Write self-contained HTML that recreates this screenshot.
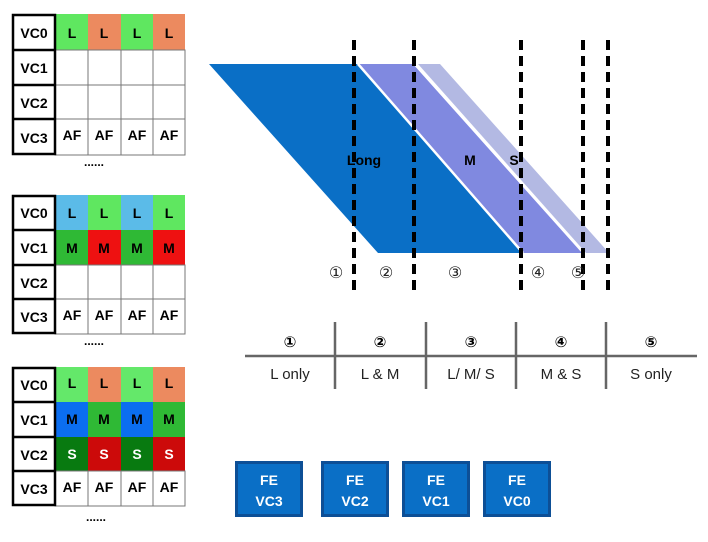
<!DOCTYPE html>
<html><head><meta charset="utf-8"><style>
html,body{margin:0;padding:0;background:#fff;}
svg{display:block;font-family:"Liberation Sans",Arial,sans-serif;}
.b{font-weight:bold;font-size:14px;text-anchor:middle;}
</style></head><body>
<svg width="708" height="542" viewBox="0 0 708 542">
<!-- Table 1 -->
<g>
<rect x="55" y="14" width="33" height="36" fill="#5fe760"/><rect x="88" y="14" width="33" height="36" fill="#ec8a5f"/>
<rect x="121" y="14" width="32" height="36" fill="#5fe760"/><rect x="153" y="14" width="32" height="36" fill="#ec8a5f"/>
<g stroke="#777" stroke-width="1" fill="none">
<rect x="55" y="50" width="130" height="105"/>
<line x1="88" y1="50" x2="88" y2="155"/><line x1="121" y1="50" x2="121" y2="155"/><line x1="153" y1="50" x2="153" y2="155"/>
<line x1="55" y1="85" x2="185" y2="85"/><line x1="55" y1="119" x2="185" y2="119"/>
</g>
<g stroke="#000" stroke-width="2.5" fill="none">
<rect x="13" y="15" width="42" height="139"/><line x1="13" y1="50" x2="55" y2="50"/><line x1="13" y1="85" x2="55" y2="85"/><line x1="13" y1="119" x2="55" y2="119"/>
</g>
<text class="b" x="34" y="38">VC0</text><text class="b" x="34" y="73">VC1</text><text class="b" x="34" y="108">VC2</text><text class="b" x="34" y="143">VC3</text>
<text class="b" x="72" y="38">L</text><text class="b" x="104" y="38">L</text><text class="b" x="137" y="38">L</text><text class="b" x="169" y="38">L</text>
<text class="b" x="72" y="140">AF</text><text class="b" x="104" y="140">AF</text><text class="b" x="137" y="140">AF</text><text class="b" x="169" y="140">AF</text>
<text x="84" y="166" font-size="12" font-weight="bold">......</text>
</g>
<!-- Table 2 -->
<g>
<rect x="55" y="195" width="33" height="35" fill="#5bbbe8"/><rect x="88" y="195" width="33" height="35" fill="#5fe760"/>
<rect x="121" y="195" width="32" height="35" fill="#5bbbe8"/><rect x="153" y="195" width="32" height="35" fill="#5fe760"/>
<rect x="55" y="230" width="33" height="35" fill="#2fb935"/><rect x="88" y="230" width="33" height="35" fill="#ee1111"/>
<rect x="121" y="230" width="32" height="35" fill="#2fb935"/><rect x="153" y="230" width="32" height="35" fill="#ee1111"/>
<g stroke="#777" stroke-width="1" fill="none">
<rect x="55" y="265" width="130" height="69"/>
<line x1="88" y1="265" x2="88" y2="334"/><line x1="121" y1="265" x2="121" y2="334"/><line x1="153" y1="265" x2="153" y2="334"/>
<line x1="55" y1="299" x2="185" y2="299"/>
</g>
<g stroke="#000" stroke-width="2.5" fill="none">
<rect x="13" y="196" width="42" height="137"/><line x1="13" y1="230" x2="55" y2="230"/><line x1="13" y1="265" x2="55" y2="265"/><line x1="13" y1="299" x2="55" y2="299"/>
</g>
<text class="b" x="34" y="218">VC0</text><text class="b" x="34" y="253">VC1</text><text class="b" x="34" y="288">VC2</text><text class="b" x="34" y="322">VC3</text>
<text class="b" x="72" y="218">L</text><text class="b" x="104" y="218">L</text><text class="b" x="137" y="218">L</text><text class="b" x="169" y="218">L</text>
<text class="b" x="72" y="253">M</text><text class="b" x="104" y="253">M</text><text class="b" x="137" y="253">M</text><text class="b" x="169" y="253">M</text>
<text class="b" x="72" y="320">AF</text><text class="b" x="104" y="320">AF</text><text class="b" x="137" y="320">AF</text><text class="b" x="169" y="320">AF</text>
<text x="84" y="345" font-size="12" font-weight="bold">......</text>
</g>
<!-- Table 3 -->
<g>
<rect x="55" y="367" width="33" height="35" fill="#64e86a"/><rect x="88" y="367" width="33" height="35" fill="#ec8a5f"/>
<rect x="121" y="367" width="32" height="35" fill="#64e86a"/><rect x="153" y="367" width="32" height="35" fill="#ec8a5f"/>
<rect x="55" y="402" width="33" height="35" fill="#0b6ef0"/><rect x="88" y="402" width="33" height="35" fill="#2fb935"/>
<rect x="121" y="402" width="32" height="35" fill="#0b6ef0"/><rect x="153" y="402" width="32" height="35" fill="#2fb935"/>
<rect x="55" y="437" width="33" height="34" fill="#087a10"/><rect x="88" y="437" width="33" height="34" fill="#cc0a0a"/>
<rect x="121" y="437" width="32" height="34" fill="#087a10"/><rect x="153" y="437" width="32" height="34" fill="#cc0a0a"/>
<g stroke="#777" stroke-width="1" fill="none">
<rect x="55" y="471" width="130" height="35"/>
<line x1="88" y1="471" x2="88" y2="506"/><line x1="121" y1="471" x2="121" y2="506"/><line x1="153" y1="471" x2="153" y2="506"/>
</g>
<g stroke="#000" stroke-width="2.5" fill="none">
<rect x="13" y="368" width="42" height="137"/><line x1="13" y1="402" x2="55" y2="402"/><line x1="13" y1="437" x2="55" y2="437"/><line x1="13" y1="471" x2="55" y2="471"/>
</g>
<text class="b" x="34" y="390">VC0</text><text class="b" x="34" y="425">VC1</text><text class="b" x="34" y="460">VC2</text><text class="b" x="34" y="494">VC3</text>
<text class="b" x="72" y="388">L</text><text class="b" x="104" y="388">L</text><text class="b" x="137" y="388">L</text><text class="b" x="169" y="388">L</text>
<text class="b" x="72" y="424">M</text><text class="b" x="104" y="424">M</text><text class="b" x="137" y="424">M</text><text class="b" x="169" y="424">M</text>
<text class="b" x="72" y="459" fill="#fff">S</text><text class="b" x="104" y="459" fill="#fff">S</text><text class="b" x="137" y="459" fill="#fff">S</text><text class="b" x="169" y="459" fill="#fff">S</text>
<text class="b" x="72" y="492">AF</text><text class="b" x="104" y="492">AF</text><text class="b" x="137" y="492">AF</text><text class="b" x="169" y="492">AF</text>
<text x="86" y="521" font-size="12" font-weight="bold">......</text>
</g>
<!-- Parallelograms -->
<polygon points="418,64 440,64 609,253 586,253" fill="#b3b9e3"/>
<polygon points="358,64 413,64 582,253 523,253" fill="#8089e0"/>
<polygon points="209,64 357,64 522,253 378,253" fill="#0a6fc6"/>
<line x1="358" y1="64" x2="523" y2="253" stroke="#fff" stroke-width="2.5"/>
<line x1="415" y1="64" x2="584" y2="253" stroke="#fff" stroke-width="2.5"/>
<text x="364" y="165" font-size="14" font-weight="bold" text-anchor="middle">Long</text>
<text x="470" y="165" font-size="14" font-weight="bold" text-anchor="middle">M</text>
<text x="514" y="165" font-size="14" font-weight="bold" text-anchor="middle">S</text>
<g stroke="#000" stroke-width="4" stroke-dasharray="10,6">
<line x1="354" y1="40" x2="354" y2="292"/><line x1="414" y1="40" x2="414" y2="292"/>
<line x1="521" y1="40" x2="521" y2="292"/><line x1="583" y1="40" x2="583" y2="292"/><line x1="608" y1="40" x2="608" y2="292"/>
</g>
<g font-size="16" text-anchor="middle" fill="#222" font-family="'DejaVu Sans',sans-serif">
<text x="336" y="278">①</text><text x="386" y="278">②</text><text x="455" y="278">③</text><text x="538" y="278">④</text><text x="578" y="278">⑤</text>
</g>
<!-- Bottom table -->
<g stroke="#666" stroke-width="2.5">
<line x1="245" y1="356" x2="697" y2="356"/>
<line x1="335" y1="322" x2="335" y2="389"/><line x1="426" y1="322" x2="426" y2="389"/>
<line x1="516" y1="322" x2="516" y2="389"/><line x1="606" y1="322" x2="606" y2="389"/>
</g>
<g font-size="15" font-weight="bold" text-anchor="middle" font-family="'DejaVu Sans',sans-serif">
<text x="290" y="347">①</text><text x="380" y="347">②</text><text x="471" y="347">③</text><text x="561" y="347">④</text><text x="651" y="347">⑤</text>
</g>
<g font-size="15" text-anchor="middle" fill="#222">
<text x="290" y="379">L only</text><text x="380" y="379">L &amp; M</text><text x="471" y="379">L/ M/ S</text><text x="561" y="379">M &amp; S</text><text x="651" y="379">S only</text>
</g>
<!-- FE boxes -->
<g>
<rect x="236.5" y="462.5" width="65" height="53" fill="#0a6fc6" stroke="#0d4f96" stroke-width="3"/>
<rect x="322.5" y="462.5" width="65" height="53" fill="#0a6fc6" stroke="#0d4f96" stroke-width="3"/>
<rect x="403.5" y="462.5" width="65" height="53" fill="#0a6fc6" stroke="#0d4f96" stroke-width="3"/>
<rect x="484.5" y="462.5" width="65" height="53" fill="#0a6fc6" stroke="#0d4f96" stroke-width="3"/>
</g>
<g fill="#fff" font-size="14" font-weight="bold" text-anchor="middle">
<text x="269" y="485">FE</text><text x="269" y="506">VC3</text>
<text x="355" y="485">FE</text><text x="355" y="506">VC2</text>
<text x="436" y="485">FE</text><text x="436" y="506">VC1</text>
<text x="517" y="485">FE</text><text x="517" y="506">VC0</text>
</g>
</svg>
</body></html>
